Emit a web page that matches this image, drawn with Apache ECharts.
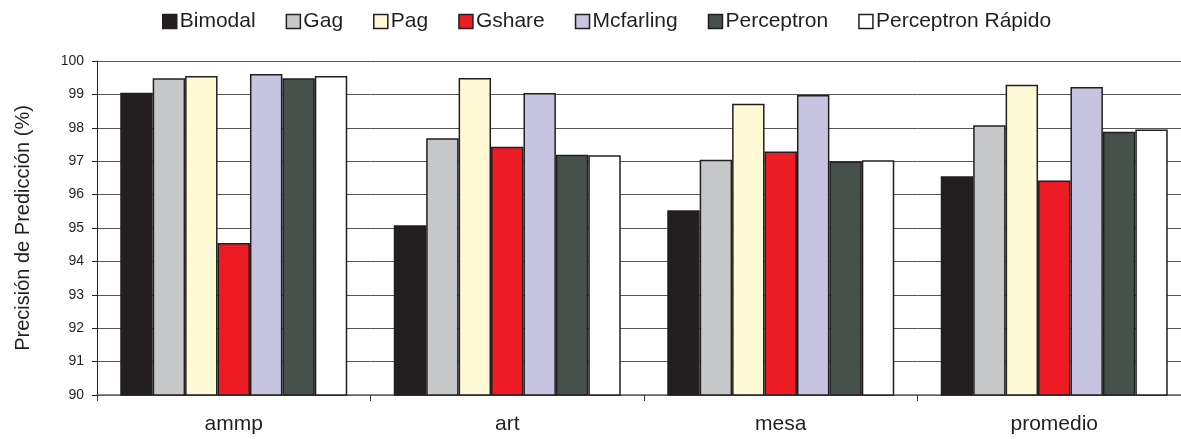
<!DOCTYPE html>
<html>
<head>
<meta charset="utf-8">
<script src="https://cdn.jsdelivr.net/npm/echarts@6/dist/echarts.min.js"></script>
<style>
html,body{margin:0;padding:0;background:#fff;overflow:hidden;}
#chart{width:1200px;height:439px;}
</style>
</head>
<body>
<div id="chart"></div>
<script>
const categories = ['ammp', 'art', 'mesa', 'promedio'];
const seriesNames = ['Bimodal', 'Gag', 'Pag', 'Gshare', 'Mcfarling', 'Perceptron', 'Perceptron Rápido'];
const bimodal = [99.05, 95.08, 95.53, 96.55];
const gag = [99.48, 97.69, 97.04, 98.08];
const pag = [99.55, 99.49, 98.72, 99.29];
const gshare = [94.55, 97.43, 97.29, 96.42];
const mcfarling = [99.61, 99.04, 98.98, 99.22];
const perceptron = [99.48, 97.19, 96.99, 97.88];
const perceptronRapido = [99.55, 97.18, 97.03, 97.95];
const yTicks = [90, 91, 92, 93, 94, 95, 96, 97, 98, 99, 100];

const seriesData = [bimodal, gag, pag, gshare, mcfarling, perceptron, perceptronRapido];
const colors = ['#231f20', '#c7c8ca', '#fff9d6', '#ed1c24', '#c7c4e2', '#45514a', '#ffffff'];

const chart = echarts.init(document.getElementById('chart'), null, {renderer: 'canvas'});
const font = 'Liberation Sans, Arial, sans-serif';
chart.setOption({
  animation: false,
  backgroundColor: '#ffffff',
  color: colors,
  legend: {
    top: 6,
    left: 157,
    itemWidth: 14,
    itemHeight: 14,
    itemGap: 30,
    icon: 'rect',
    textStyle: {fontFamily: font, fontSize: 21, color: '#231f20', padding: [0, 0, 0, -2]},
    data: seriesNames.map(n => ({name: n, itemStyle: {borderColor: '#231f20', borderWidth: 1.5}}))
  },
  grid: {left: 97, top: 61, width: 1094, height: 334, containLabel: false},
  xAxis: {
    type: 'category',
    data: categories,
    axisLine: {show: true, lineStyle: {color: '#666666', width: 1.5}},
    axisTick: {show: true, length: 6, lineStyle: {color: '#333333'}},
    axisLabel: {fontFamily: font, fontSize: 21, color: '#231f20', margin: 19},
    splitLine: {show: false}
  },
  yAxis: {
    type: 'value',
    min: yTicks[0],
    max: yTicks[yTicks.length - 1],
    interval: 1,
    name: 'Precisión de Predicción (%)',
    nameLocation: 'middle',
    nameGap: 64,
    nameTextStyle: {fontFamily: font, fontSize: 20, color: '#231f20'},
    axisLine: {show: true, lineStyle: {color: '#231f20', width: 1}},
    axisTick: {show: true, length: 5, lineStyle: {color: '#231f20'}},
    axisLabel: {fontFamily: font, fontSize: 14, color: '#231f20', margin: 13},
    splitLine: {show: true, lineStyle: {color: '#555555', width: 1}}
  },
  series: seriesNames.map((n, i) => ({
    name: n,
    type: 'bar',
    data: seriesData[i],
    barGap: '0%',
    barCategoryGap: '17%',
    itemStyle: {color: colors[i], borderColor: '#231f20', borderWidth: 1.5}
  }))
});
</script>
</body>
</html>
